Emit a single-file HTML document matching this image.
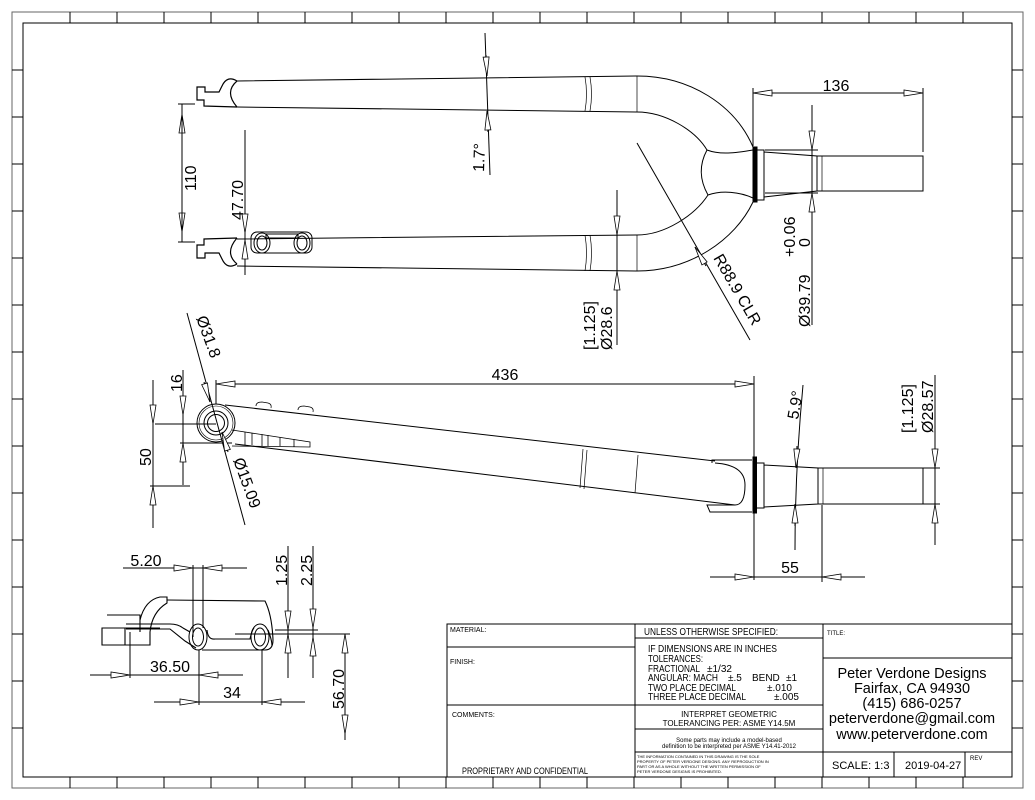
<!DOCTYPE html>
<html><head><meta charset="utf-8"><style>
html,body{margin:0;padding:0;background:#fff;}
svg{display:block;}
text{font-family:"Liberation Sans","DejaVu Sans",sans-serif;fill:#000;}
.d{font-size:16px;}
</style></head><body>
<svg width="1035" height="800" viewBox="0 0 1035 800" xmlns="http://www.w3.org/2000/svg">
<defs>
<marker id="a" viewBox="-20 -4 22 8" refX="0" refY="0" markerWidth="22" markerHeight="8" markerUnits="userSpaceOnUse" orient="auto-start-reverse">
<path d="M0,0 L-19,-3 L-19,3 Z" fill="#fff" stroke="#000" stroke-width="0.8"/>
</marker>
</defs>
<g fill="none" stroke="#000" stroke-width="1">
<rect x="12" y="12" width="1011" height="776" stroke="#666"/>
<rect x="23" y="23" width="989" height="754"/>
<path d="M70,12V23M117,12V23M164,12V23M211,12V23M258,12V23M305,12V23M352,12V23M399,12V23M446,12V23M493,12V23M540,12V23M587,12V23M634,12V23M681,12V23M728,12V23M775,12V23M822,12V23M869,12V23M916,12V23M963,12V23
M70,777V788M117,777V788M164,777V788M211,777V788M258,777V788M305,777V788M352,777V788M399,777V788M446,777V788M493,777V788M540,777V788M587,777V788M634,777V788M681,777V788M728,777V788M775,777V788M822,777V788M869,777V788M916,777V788M963,777V788
M12,70H23M12,117H23M12,164H23M12,211H23M12,258H23M12,305H23M12,352H23M12,399H23M12,446H23M12,493H23M12,540H23M12,587H23M12,634H23M12,681H23M12,728H23
M1012,70H1023M1012,117H1023M1012,164H1023M1012,211H1023M1012,258H1023M1012,305H1023M1012,352H1023M1012,399H1023M1012,446H1023M1012,493H1023M1012,540H1023M1012,587H1023M1012,634H1023M1012,681H1023M1012,728H1023"/>
<rect x="447" y="624" width="565" height="153"/>
<path d="M635,624V777M823,624V777M447,647H635M447,705H635M635,638H823M635,705H823M635,729H823M635,752H823M823,658H1012M823,752H1012M894,752V777M965,752V777"/>

<!-- TOP VIEW -->
<path d="M237,81 L637,76 C690,76 735,105 753,147"/>
<path d="M237,107 L637,112 C665,112 695,130 707,150"/>
<path d="M237,239 L637,235 C665,235 695,215 708,195"/>
<path d="M237,266 L637,271 C690,271 735,240 753,202"/>
<path d="M707,150 C720,155 735,153 753,150 M708,195 C722,190 740,192 753,198 M707,150 Q695,172 708,195"/>
<path d="M585,77 Q588,94 585,111 M590,77 Q593,94 590,111 M637,76 V112 M585,235 Q588,253 585,271 M590,235 Q593,253 590,271 M637,235 V271" stroke-width="0.7"/>
<rect x="753" y="147" width="4" height="55" fill="#000"/>
<path d="M757,150 H764 V200 H757 M764,152 L817,156 L817,191 L764,197"/>
<rect x="817" y="156" width="106" height="35"/>
<path d="M822,156V191" stroke-width="0.7"/>
<path d="M237,81 Q227,75 222,86 L219,92 L205,92 L205,87 L197,87 L197,100 L204,100 L204,106 L237,107 M237,81 Q224,92 237,107" stroke-width="1.2"/>
<g transform="translate(0,345) scale(1,-1)"><path d="M237,81 Q227,75 222,86 L219,92 L205,92 L205,87 L197,87 L197,100 L204,100 L204,106 L237,107 M237,81 Q224,92 237,107" stroke-width="1.2"/></g>
<rect x="251" y="232" width="61" height="21" rx="6"/>
<path d="M266,234 H298 V238 H266 Z"/>
<ellipse cx="262" cy="243" rx="5" ry="7"/><ellipse cx="262" cy="243" rx="8" ry="10"/>
<ellipse cx="302" cy="243" rx="5" ry="7"/><ellipse cx="302" cy="243" rx="8" ry="10"/>

<path d="M178,104H195M178,242H195"/>
<path d="M182,114V232" marker-start="url(#a)" marker-end="url(#a)"/>
<path d="M182,104V242"/>
<path d="M245,130V275"/>
<path d="M245,213V233" marker-end="url(#a)"/><path d="M245,262V240" marker-end="url(#a)"/>
<path d="M485,33 L490,175"/>
<path d="M486,55 L487,76" marker-end="url(#a)"/><path d="M488,132 L487,111" marker-end="url(#a)"/>
<path d="M617,190V345"/>
<path d="M617,213V235" marker-end="url(#a)"/><path d="M617,293V271" marker-end="url(#a)"/>
<path d="M637,143 L750,340"/>
<path d="M706,266 L695,247" marker-end="url(#a)"/>
<path d="M753,88V146M923,88V152"/>
<path d="M753,93H923" marker-start="url(#a)" marker-end="url(#a)"/>
<path d="M812,105V325"/>
<path d="M765,150H818M765,193H818"/>
<path d="M812,128V150" marker-end="url(#a)"/><path d="M812,215V193" marker-end="url(#a)"/>

<!-- SIDE VIEW -->
<circle cx="216" cy="423" r="19"/><circle cx="216" cy="423" r="17" stroke-width="0.6"/>
<circle cx="216" cy="423" r="12"/><circle cx="216" cy="423" r="8.5"/>
<path d="M225,405 L715,461"/>
<path d="M235,444 L735,505"/>
<path d="M256,406 Q256,402 262,402 L268,403 Q272,404 271,408 M298,410 Q298,406 304,406 L310,407 Q314,408 313,412" stroke-width="0.8"/>
<path d="M232,430 L310,442 L310,447 L232,446 M245,432V445M252,433V445M262,434V446M268,435V446M280,437V446M294,439V447" stroke-width="0.8"/>
<path d="M583,449 L580,488 M587,450 L584,489 M638,455 L635,493" stroke-width="0.7"/>
<path d="M712,463 L712,460 L752,460 M752,512 L710,512 L707,505 L735,505"/>
<path d="M715,463 Q745,465 745,485 Q745,505 735,505"/>
<rect x="753" y="457" width="3.5" height="56" fill="#000"/>
<path d="M756,463 H764 V508 H756 M764,465 L818,468 L818,504 L764,507"/>
<rect x="818" y="468" width="105" height="36"/>
<path d="M823,468V504" stroke-width="0.7"/>

<path d="M216,380V404M754,376V580M822,505V582"/>
<path d="M216,384H754" marker-start="url(#a)" marker-end="url(#a)"/>
<path d="M710,577H865"/>
<path d="M733,577H754" marker-end="url(#a)"/><path d="M843,577H822" marker-end="url(#a)"/>
<path d="M803,385 Q795,470 795,550"/>
<path d="M797,446 L796,468" marker-end="url(#a)"/><path d="M795,526 L795,504" marker-end="url(#a)"/>
<path d="M935,375V545M923,468H940M923,504H940"/>
<path d="M935,446V468" marker-end="url(#a)"/><path d="M935,526V504" marker-end="url(#a)"/>
<path d="M183,370V485M155,424H216M180,443H232M150,486H190"/>
<path d="M183,395V415" marker-end="url(#a)"/><path d="M183,463V443" marker-end="url(#a)"/>
<path d="M153,380V528"/>
<path d="M153,402V424" marker-end="url(#a)"/><path d="M153,508V486" marker-end="url(#a)"/>
<path d="M187,313 L245,525"/>
<path d="M204,382 L210,402" marker-end="url(#a)"/><path d="M228,452 L222,432" marker-end="url(#a)"/>

<!-- DETAIL -->
<path d="M107,615 H140 V632 M102,628 H125 V645 H102 Z M125,628 H160 M125,645 H150 V632" stroke-width="1.1"/>
<path d="M140,620 Q145,600 160,597 L167,597 L167,603 Q152,612 150,632" stroke-width="1.1"/>
<path d="M167,600 L265,601 Q272,615 273,640 Q273,650 265,650 L202,650" stroke-width="1.1"/>
<path d="M126,624 L170,624 Q178,624 183,628 L190,632 M126,629 L170,629 L185,641 L196,648 M207,630 Q208,640 215,639 L250,639 Q252,630 254,628 M268,630 Q272,640 272,646" stroke-width="1.1"/>
<ellipse cx="198" cy="637" rx="5.5" ry="9"/><ellipse cx="198" cy="637" rx="9" ry="13"/>
<ellipse cx="260" cy="637" rx="5.5" ry="9"/><ellipse cx="260" cy="637" rx="9" ry="13"/>
<path d="M123,568H247M193,565V637M203,565V628"/>
<path d="M171,568H193" marker-end="url(#a)"/><path d="M225,568H203" marker-end="url(#a)"/>
<path d="M288,546V678M313,546V678M275,630H318M235,634H350"/>
<path d="M288,610V630" marker-end="url(#a)"/><path d="M288,655V634" marker-end="url(#a)"/>
<path d="M313,608V628" marker-end="url(#a)"/><path d="M313,658V637" marker-end="url(#a)"/>
<path d="M345,634V740"/>
<path d="M345,656V634" marker-end="url(#a)"/><path d="M345,712V734" marker-end="url(#a)"/>
<path d="M90,675H243M130,632V678M199,650V705M262,650V705"/>
<path d="M108,675H130" marker-end="url(#a)"/><path d="M221,675H199" marker-end="url(#a)"/>
<path d="M154,702H305"/>
<path d="M177,702H199" marker-end="url(#a)"/><path d="M284,702H262" marker-end="url(#a)"/>
</g>

<g class="d">
<text transform="translate(196,191) rotate(-90)" class="d">110</text>
<text transform="translate(243,220) rotate(-90)" class="d">47.70</text>
<text transform="translate(484,172) rotate(-88)" class="d">1.7°</text>
<text transform="translate(595,350) rotate(-90)" class="d">[1.125]</text>
<text transform="translate(612,350) rotate(-90)" class="d">Ø28.6</text>
<text transform="translate(713,258) rotate(60)" class="d">R88.9 CLR</text>
<text transform="translate(795,257) rotate(-90)" class="d">+0.06</text>
<text transform="translate(810,247) rotate(-90)" class="d">0</text>
<text transform="translate(810,327) rotate(-90)" class="d">Ø39.79</text>
<text x="836" y="91" class="d" text-anchor="middle">136</text>
<text x="505" y="380" class="d" text-anchor="middle">436</text>
<text x="790" y="573" class="d" text-anchor="middle">55</text>
<text transform="translate(798,420) rotate(-80)" class="d">5.9°</text>
<text transform="translate(913,433) rotate(-90)" class="d">[1.125]</text>
<text transform="translate(933,433) rotate(-90)" class="d">Ø28.57</text>
<text transform="translate(182,392) rotate(-90)" class="d">16</text>
<text transform="translate(151,466) rotate(-90)" class="d">50</text>
<text transform="translate(196,318) rotate(70)" class="d">Ø31.8</text>
<text transform="translate(233,460) rotate(70)" class="d">Ø15.09</text>
<text x="146" y="566" class="d" text-anchor="middle">5.20</text>
<text transform="translate(287,586) rotate(-90)" class="d">1.25</text>
<text transform="translate(312,586) rotate(-90)" class="d">2.25</text>
<text transform="translate(344,709) rotate(-90)" class="d">56.70</text>
<text x="170" y="672" class="d" text-anchor="middle">36.50</text>
<text x="232" y="698" class="d" text-anchor="middle">34</text>
</g>

<text x="450" y="632" font-size="7">MATERIAL:</text>
<text x="450" y="664" font-size="7">FINISH:</text>
<text x="452" y="717" font-size="7">COMMENTS:</text>
<text x="462" y="774" font-size="9" textLength="126" lengthAdjust="spacingAndGlyphs">PROPRIETARY AND CONFIDENTIAL</text>
<text x="644" y="635" font-size="10.5" textLength="134" lengthAdjust="spacingAndGlyphs">UNLESS OTHERWISE SPECIFIED:</text>
<g font-size="10">
<text x="648" y="652" textLength="129" lengthAdjust="spacingAndGlyphs">IF DIMENSIONS ARE IN INCHES</text>
<text x="648" y="662" textLength="55" lengthAdjust="spacingAndGlyphs">TOLERANCES:</text>
<text x="648" y="672" textLength="52" lengthAdjust="spacingAndGlyphs">FRACTIONAL</text><text x="707" y="672">±1/32</text>
<text x="648" y="681" textLength="70" lengthAdjust="spacingAndGlyphs">ANGULAR: MACH</text><text x="728" y="681">±.5</text><text x="752" y="681">BEND</text><text x="786" y="681">±1</text>
<text x="648" y="691" textLength="88" lengthAdjust="spacingAndGlyphs">TWO PLACE DECIMAL</text><text x="767" y="691">±.010</text>
<text x="648" y="700" textLength="98" lengthAdjust="spacingAndGlyphs">THREE PLACE DECIMAL</text><text x="774" y="700">±.005</text>
</g>
<text x="729" y="717" font-size="8" text-anchor="middle">INTERPRET GEOMETRIC</text>
<text x="729" y="726" font-size="8" text-anchor="middle">TOLERANCING PER: ASME Y14.5M</text>
<text x="729" y="742" font-size="6" text-anchor="middle">Some parts may include a model-based</text>
<text x="729" y="748" font-size="6" text-anchor="middle">definition to be interpreted per ASME Y14.41-2012</text>
<g font-size="4">
<text x="637" y="758">THE INFORMATION CONTAINED IN THIS DRAWING IS THE SOLE</text>
<text x="637" y="763">PROPERTY OF PETER VERDONE DESIGNS. ANY REPRODUCTION IN</text>
<text x="637" y="768">PART OR AS A WHOLE WITHOUT THE WRITTEN PERMISSION OF</text>
<text x="637" y="773">PETER VERDONE DESIGNS IS PROHIBITED.</text>
</g>
<text x="827" y="635" font-size="6">TITLE:</text>
<g font-size="14.5" text-anchor="middle">
<text x="912" y="678">Peter Verdone Designs</text>
<text x="912" y="693">Fairfax, CA 94930</text>
<text x="912" y="708">(415) 686-0257</text>
<text x="912" y="723">peterverdone@gmail.com</text>
<text x="912" y="739">www.peterverdone.com</text>
</g>
<text x="832" y="769" font-size="11">SCALE: 1:3</text>
<text x="905" y="769" font-size="11">2019-04-27</text>
<text x="970" y="760" font-size="6">REV</text>
</svg>
</body></html>
